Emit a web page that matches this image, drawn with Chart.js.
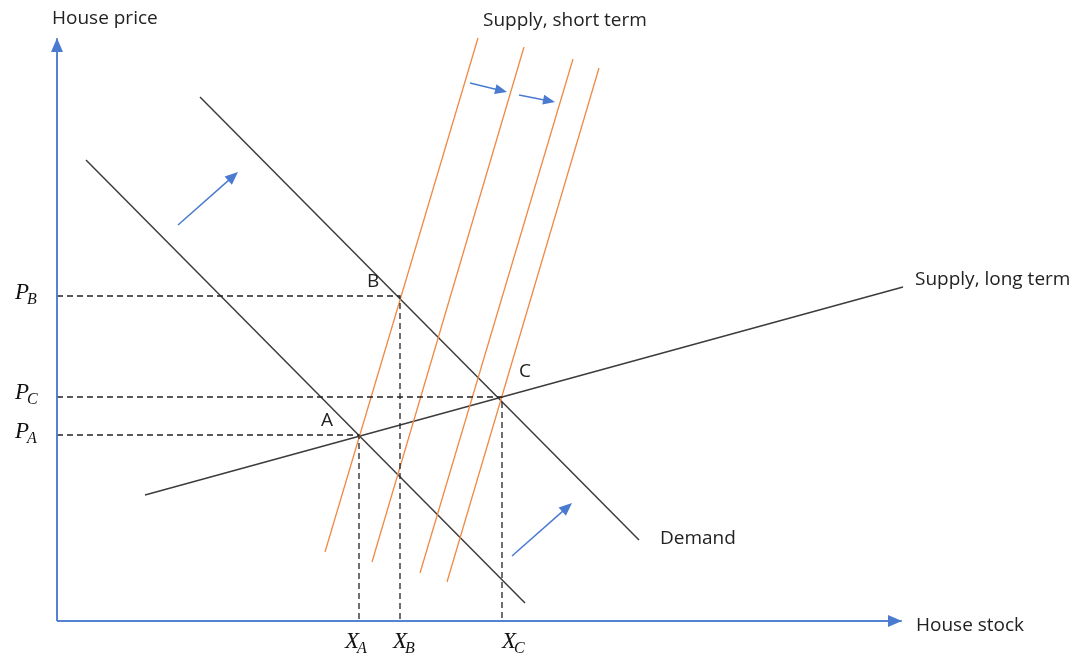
<!DOCTYPE html>
<html>
<head>
<meta charset="utf-8">
<script src="https://cdn.jsdelivr.net/npm/chart.js@4.4.0/dist/chart.umd.min.js"></script>
<style>
  body { margin: 0; background: #ffffff; }
  #wrap { width: 1080px; height: 657px; }
</style>
</head>
<body>
<div id="wrap"><canvas id="grafico"></canvas></div>
<script>
// Datos del diagrama (unidades: stock en x, precio en y, origen en el cruce de ejes)
const ejeY = [[0, 0], [0, 583]];
const ejeX = [[0, 0], [845, 0]];

const demanda1 = [[29, 461], [468, 18]];
const demanda2 = [[143, 524], [582, 81]];
const ofertaLargo = [[88, 126], [846, 334]];

const ofertaCorto1 = [[268, 69], [421, 583]];
const ofertaCorto2 = [[315, 59], [467, 574]];
const ofertaCorto3 = [[363, 48], [516, 562]];
const ofertaCorto4 = [[390, 39], [542, 553]];

// Puntos de equilibrio
const puntoA = [302, 186];
const puntoB = [343, 325];
const puntoC = [445, 224];

// Flechas de desplazamiento
const flechasDemanda = [[[121, 396], [181, 449]], [[455, 65], [515, 118]]];
const flechasOferta = [[[413, 538], [450, 529]], [[462, 526], [498, 519]]];

// Textos
const textos = [
  { t: 'House price', x: -5, y: 597 },
  { t: 'Supply, short term', x: 426, y: 595 },
  { t: 'Supply, long term', x: 858, y: 336 },
  { t: 'Demand', x: 603, y: 77 },
  { t: 'House stock', x: 859, y: -10 },
  { t: 'A', x: 264, y: 195 },
  { t: 'B', x: 310, y: 334 },
  { t: 'C', x: 462, y: 244 }
];
const etiquetasP = [
  { p: 'P', s: 'B', x: -42, y: 322 },
  { p: 'P', s: 'C', x: -42, y: 222 },
  { p: 'P', s: 'A', x: -42, y: 183 }
];
const etiquetasX = [
  { p: 'X', s: 'A', x: 288, y: -27 },
  { p: 'X', s: 'B', x: 336, y: -27 },
  { p: 'X', s: 'C', x: 445, y: -27 }
];

const NEGRO = '#3c3c3c';
const NARANJA = '#ef8a47';
const AZUL = '#4a7bd0';

function aPuntos(arr) {
  return arr.map(p => ({ x: p[0], y: p[1] }));
}

function linea(arr, color, ancho, guiones) {
  return {
    data: aPuntos(arr),
    showLine: true,
    borderColor: color,
    borderWidth: ancho,
    borderDash: guiones || [],
    pointRadius: 0,
    fill: false
  };
}

function guia(p) {
  return linea([[0, p[1]], p, [p[0], 0]], '#222222', 1.3, [6, 4]);
}

// Plugin para flechas y textos
const pluginDibujo = {
  id: 'dibujo',
  afterDatasetsDraw(chart) {
    const ctx = chart.ctx;
    const sx = chart.scales.x;
    const sy = chart.scales.y;
    const px = v => sx.getPixelForValue(v);
    const py = v => sy.getPixelForValue(v);

    function cabeza(x0, y0, x1, y1, largo, ancho) {
      const ang = Math.atan2(y1 - y0, x1 - x0);
      ctx.save();
      ctx.translate(x1, y1);
      ctx.rotate(ang);
      ctx.beginPath();
      ctx.moveTo(0, 0);
      ctx.lineTo(-largo, -ancho / 2);
      ctx.lineTo(-largo, ancho / 2);
      ctx.closePath();
      ctx.fillStyle = AZUL;
      ctx.fill();
      ctx.restore();
    }

    function flecha(par, largo, ancho) {
      const x0 = px(par[0][0]), y0 = py(par[0][1]);
      const x1 = px(par[1][0]), y1 = py(par[1][1]);
      const ang = Math.atan2(y1 - y0, x1 - x0);
      ctx.save();
      ctx.strokeStyle = AZUL;
      ctx.lineWidth = 1.5;
      ctx.beginPath();
      ctx.moveTo(x0, y0);
      ctx.lineTo(x1 - Math.cos(ang) * largo * 0.8, y1 - Math.sin(ang) * largo * 0.8);
      ctx.stroke();
      ctx.restore();
      cabeza(x0, y0, x1, y1, largo, ancho);
    }

    // Flechas de ejes
    flecha(ejeY, 14, 12);
    flecha(ejeX, 14, 12);
    flechasDemanda.forEach(f => flecha(f, 13, 11));
    flechasOferta.forEach(f => flecha(f, 12, 10));

    // Textos normales
    ctx.save();
    ctx.fillStyle = '#222222';
    ctx.font = '19px "Open Sans"';
    ctx.textBaseline = 'alphabetic';
    textos.forEach(e => ctx.fillText(e.t, px(e.x), py(e.y)));
    ctx.restore();

    // Etiquetas matematicas
    function mate(e) {
      ctx.save();
      ctx.fillStyle = '#111111';
      ctx.font = 'italic 23px "Liberation Serif"';
      const x = px(e.x), y = py(e.y);
      ctx.fillText(e.p, x, y);
      const w = ctx.measureText(e.p).width;
      ctx.font = 'italic 16px "Liberation Serif"';
      ctx.fillText(e.s, x + w - 2, y + 5);
      ctx.restore();
    }
    etiquetasP.forEach(mate);
    etiquetasX.forEach(mate);
  }
};

const ctx = document.getElementById('grafico').getContext('2d');
new Chart(ctx, {
  type: 'scatter',
  data: {
    datasets: [
      linea(ejeY, AZUL, 1.5),
      linea(ejeX, AZUL, 1.5),
      guia(puntoA),
      guia(puntoB),
      guia(puntoC),
      linea(ofertaCorto1, NARANJA, 1.3),
      linea(ofertaCorto2, NARANJA, 1.3),
      linea(ofertaCorto3, NARANJA, 1.3),
      linea(ofertaCorto4, NARANJA, 1.3),
      linea(demanda1, NEGRO, 1.5),
      linea(demanda2, NEGRO, 1.5),
      linea(ofertaLargo, NEGRO, 1.5)
    ]
  },
  options: {
    responsive: true,
    maintainAspectRatio: false,
    animation: false,
    layout: { padding: 0 },
    plugins: {
      legend: { display: false },
      tooltip: { enabled: false }
    },
    scales: {
      x: { type: 'linear', min: -57, max: 1023, display: false },
      y: { type: 'linear', min: -36, max: 621, display: false }
    }
  },
  plugins: [pluginDibujo]
});
</script>
</body>
</html>
